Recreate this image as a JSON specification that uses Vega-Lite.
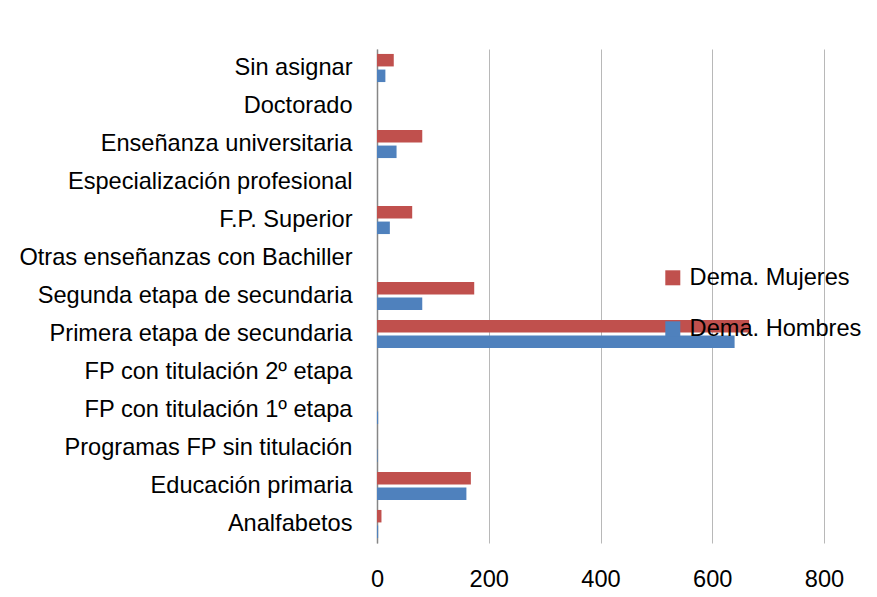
{
  "$schema": "https://vega.github.io/schema/vega-lite/v6.json",
  "width": 447,
  "height": 494,
  "autosize": {"type": "none"},
  "padding": {"left": 377, "top": 49, "right": 53, "bottom": 54},
  "background": "white",
  "config": {
    "view": {"stroke": null},
    "font": "Liberation Sans"
  },
  "data": {
    "values": [
      {"nivel": "Sin asignar", "serie": "Dema. Mujeres", "valor": 30},
      {"nivel": "Sin asignar", "serie": "Dema. Hombres", "valor": 15},
      {"nivel": "Doctorado", "serie": "Dema. Mujeres", "valor": 0},
      {"nivel": "Doctorado", "serie": "Dema. Hombres", "valor": 0},
      {"nivel": "Enseñanza universitaria", "serie": "Dema. Mujeres", "valor": 81},
      {"nivel": "Enseñanza universitaria", "serie": "Dema. Hombres", "valor": 35},
      {"nivel": "Especialización profesional", "serie": "Dema. Mujeres", "valor": 0},
      {"nivel": "Especialización profesional", "serie": "Dema. Hombres", "valor": 0},
      {"nivel": "F.P. Superior", "serie": "Dema. Mujeres", "valor": 63},
      {"nivel": "F.P. Superior", "serie": "Dema. Hombres", "valor": 23},
      {"nivel": "Otras enseñanzas con Bachiller", "serie": "Dema. Mujeres", "valor": 0},
      {"nivel": "Otras enseñanzas con Bachiller", "serie": "Dema. Hombres", "valor": 0},
      {"nivel": "Segunda etapa de secundaria", "serie": "Dema. Mujeres", "valor": 174},
      {"nivel": "Segunda etapa de secundaria", "serie": "Dema. Hombres", "valor": 81},
      {"nivel": "Primera etapa de secundaria", "serie": "Dema. Mujeres", "valor": 666},
      {"nivel": "Primera etapa de secundaria", "serie": "Dema. Hombres", "valor": 640},
      {"nivel": "FP con titulación 2º etapa", "serie": "Dema. Mujeres", "valor": 0},
      {"nivel": "FP con titulación 2º etapa", "serie": "Dema. Hombres", "valor": 0},
      {"nivel": "FP con titulación 1º etapa", "serie": "Dema. Mujeres", "valor": 0},
      {"nivel": "FP con titulación 1º etapa", "serie": "Dema. Hombres", "valor": 2},
      {"nivel": "Programas FP sin titulación", "serie": "Dema. Mujeres", "valor": 0},
      {"nivel": "Programas FP sin titulación", "serie": "Dema. Hombres", "valor": 1},
      {"nivel": "Educación primaria", "serie": "Dema. Mujeres", "valor": 168},
      {"nivel": "Educación primaria", "serie": "Dema. Hombres", "valor": 160},
      {"nivel": "Analfabetos", "serie": "Dema. Mujeres", "valor": 8},
      {"nivel": "Analfabetos", "serie": "Dema. Hombres", "valor": 2}
    ]
  },
  "mark": {"type": "bar"},
  "encoding": {
    "y": {
      "field": "nivel",
      "type": "nominal",
      "sort": null,
      "scale": {"paddingInner": 0.26, "paddingOuter": 0.13},
      "axis": {
        "title": null,
        "ticks": false,
        "domainColor": "#868686",
        "domainWidth": 1.5,
        "labelFont": "Liberation Sans",
        "labelFontSize": 23.6,
        "labelColor": "#000000",
        "labelPadding": 25,
        "labelLimit": 400,
        "grid": false
      }
    },
    "yOffset": {
      "field": "serie",
      "type": "nominal",
      "sort": ["Dema. Mujeres", "Dema. Hombres"],
      "scale": {"paddingInner": 0.2, "paddingOuter": 0}
    },
    "x": {
      "field": "valor",
      "type": "quantitative",
      "scale": {"domain": [0, 800], "nice": false},
      "axis": {
        "title": null,
        "values": [0, 200, 400, 600, 800],
        "domain": false,
        "ticks": false,
        "grid": true,
        "gridColor": "#B8B8B8",
        "gridWidth": 1,
        "labelFont": "Liberation Sans",
        "labelFontSize": 23.6,
        "labelColor": "#000000",
        "labelPadding": 24,
        "labelFlush": false
      }
    },
    "color": {
      "field": "serie",
      "type": "nominal",
      "sort": ["Dema. Mujeres", "Dema. Hombres"],
      "scale": {"domain": ["Dema. Mujeres", "Dema. Hombres"], "range": ["#C0504D", "#4F81BD"]},
      "legend": {
        "title": null,
        "orient": "none",
        "legendX": 284,
        "legendY": 217,
        "padding": 0,
        "symbolType": "square",
        "symbolSize": 225,
        "symbolStrokeWidth": 0,
        "symbolOpacity": 1,
        "labelFont": "Liberation Sans",
        "labelFontSize": 23.6,
        "labelColor": "#000000",
        "labelOffset": 5,
        "rowPadding": 26,
        "labelLimit": 300
      }
    }
  }
}
